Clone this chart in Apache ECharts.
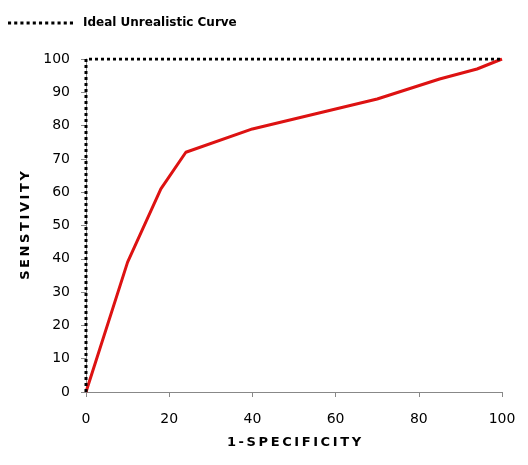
<!DOCTYPE html>
<html>
<head>
<meta charset="utf-8">
<script src="https://cdn.jsdelivr.net/npm/echarts@6/dist/echarts.min.js"></script>
<style>
  html, body { margin: 0; padding: 0; background: #fff; }
  #main { width: 528px; height: 465px; }
</style>
</head>
<body>
<div id="main"></div>
<script>
// ROC curve points
const specX = [0, 10, 18, 24, 40, 55, 70, 85, 94, 100];
const sensY = [0, 39, 61, 72, 79, 83.5, 88, 94, 97, 100];
// ideal curve corners
const idealX = [0, 0, 100];
const idealY = [0, 100, 100];

const rocData = specX.map((x, i) => [x, sensY[i]]);
const idealData = idealX.map((x, i) => [x, idealY[i]]);

// spread letters out a bit, like the original titles
const spaced = (s) => s.split("").join("\u2009");

// dotted legend marker: a row of small squares
let dotsPath = "path://";
for (let i = 0; i < 11; i++) {
  dotsPath += "M" + i * 6 + ",0h3v3h-3z";
}

const chart = echarts.init(document.getElementById("main"));
chart.setOption({
  animation: false,
  textStyle: { fontFamily: "DejaVu Sans" },
  legend: {
    left: 3,
    top: 12,
    itemWidth: 65,
    itemHeight: 3,
    itemGap: 10,
    symbolKeepAspect: false,
    data: [{ name: "Ideal Unrealistic Curve", icon: dotsPath }],
    itemStyle: { color: "#000", borderWidth: 0 },
    lineStyle: { width: 0 },
    textStyle: { fontSize: 12, fontWeight: "bold", color: "#000", fontFamily: "DejaVu Sans", padding: [0, 0, 0, 5] },
  },
  grid: { left: 86, right: 26, top: 59, bottom: 73 },
  xAxis: {
    type: "value",
    min: 0,
    max: 100,
    interval: 20,
    name: "1" + "\u2009-\u2009" + spaced("SPECIFICITY"),
    nameLocation: "middle",
    nameGap: 44,
    nameTextStyle: { fontSize: 13, fontWeight: "bold", color: "#000" },
    axisLine: { lineStyle: { color: "#888", width: 1 } },
    axisTick: { show: true, length: 5, lineStyle: { color: "#888" } },
    axisLabel: { fontSize: 14, color: "#000", margin: 20 },
    splitLine: { show: false },
  },
  yAxis: {
    type: "value",
    min: 0,
    max: 100,
    interval: 10,
    name: spaced("SENSTIVITY"),
    nameLocation: "middle",
    nameGap: 52,
    nameTextStyle: { fontSize: 13, fontWeight: "bold", color: "#000" },
    axisLine: { show: true, lineStyle: { color: "#888" } },
    axisTick: { show: true, length: 5, lineStyle: { color: "#888" } },
    axisLabel: { fontSize: 14, color: "#000", margin: 16 },
    splitLine: { show: false },
  },
  series: [
    {
      name: "Ideal Unrealistic Curve",
      type: "line",
      data: idealData,
      symbol: "none",
      lineStyle: { color: "#000", width: 3, type: [3, 3] },
      itemStyle: { color: "#000" },
      z: 3,
    },
    {
      name: "ROC",
      type: "line",
      data: rocData,
      symbol: "none",
      lineStyle: { color: "#dd1212", width: 3 },
      itemStyle: { color: "#dd1212" },
      z: 2,
    },
  ],
});
</script>
</body>
</html>
